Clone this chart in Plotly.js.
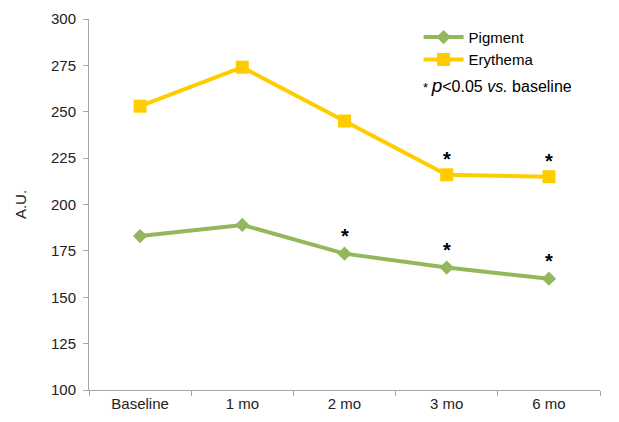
<!DOCTYPE html>
<html><head><meta charset="utf-8">
<script src="https://cdn.plot.ly/plotly-3.0.1.min.js"></script>
<style>html,body{margin:0;padding:0;background:#fff}#c{width:619px;height:422px}</style>
</head><body><div id="c"></div>
<script>
const categories = ["Baseline", "1 mo", "2 mo", "3 mo", "6 mo"];
const pigment = [183, 189, 173.5, 166, 160];
const erythema = [253, 274, 245, 216, 215];
const pigmentSig = [false, false, true, true, true];
const erythemaSig = [false, false, false, true, true];

const green = "#93B75B", yellow = "#FFCC00";
const traces = [
  {x: categories, y: pigment, name: "Pigment", type: "scatter", mode: "lines+markers",
   line: {color: green, width: 4}, marker: {symbol: "diamond", size: 11, color: green}},
  {x: categories, y: erythema, name: "Erythema", type: "scatter", mode: "lines+markers",
   line: {color: yellow, width: 4}, marker: {symbol: "square", size: 13, color: yellow}}
];
const ann = [];
categories.forEach((c, i) => {
  if (pigmentSig[i]) ann.push({x: c, y: pigment[i], xref: "x", yref: "y", text: "<b>*</b>", showarrow: false, yshift: 18, font: {size: 20, color: "#000"}});
  if (erythemaSig[i]) ann.push({x: c, y: erythema[i], xref: "x", yref: "y", text: "<b>*</b>", showarrow: false, yshift: 16, font: {size: 20, color: "#000"}});
});
ann.push({xref: "paper", yref: "paper", x: 0.650, y: 0.822, xanchor: "left", yanchor: "middle", showarrow: false,
  text: "<span style='font-size:13px'>* </span><i><span style='font-size:19px'>p</span></i>&lt;0.05 <i>vs.</i> baseline", font: {size: 16, color: "#000"}});

const layout = {
  width: 619, height: 422,
  margin: {l: 89, r: 19, t: 19, b: 32},
  paper_bgcolor: "#fff", plot_bgcolor: "#fff",
  font: {family: "Liberation Sans, Arial, sans-serif", size: 15, color: "#222"},
  showlegend: true,
  legend: {x: 0.645, y: 0.995, xanchor: "left", yanchor: "top", bgcolor: "rgba(0,0,0,0)",
    font: {size: 15, color: "#000"}, tracegroupgap: 0, itemwidth: 40},
  xaxis: {type: "category", range: [-0.5, 4.5], showgrid: false, showline: true, linecolor: "#a6a6a6", linewidth: 1,
    ticks: "outside", ticklen: 5, tickcolor: "#a6a6a6", tickson: "boundaries", zeroline: false,
    tickfont: {size: 15, color: "#222"}},
  yaxis: {range: [100, 300], dtick: 25, tick0: 100, showgrid: false, showline: true, linecolor: "#a6a6a6", linewidth: 1,
    ticks: "outside", ticklen: 5, tickcolor: "#a6a6a6", zeroline: false, ticklabelstandoff: 4,
    tickfont: {size: 15, color: "#222"},
    title: {text: "A.U.", font: {size: 15, color: "#222"}, standoff: 20}},
  annotations: ann
};
Plotly.newPlot("c", traces, layout, {displayModeBar: false, staticPlot: true});
</script></body></html>
